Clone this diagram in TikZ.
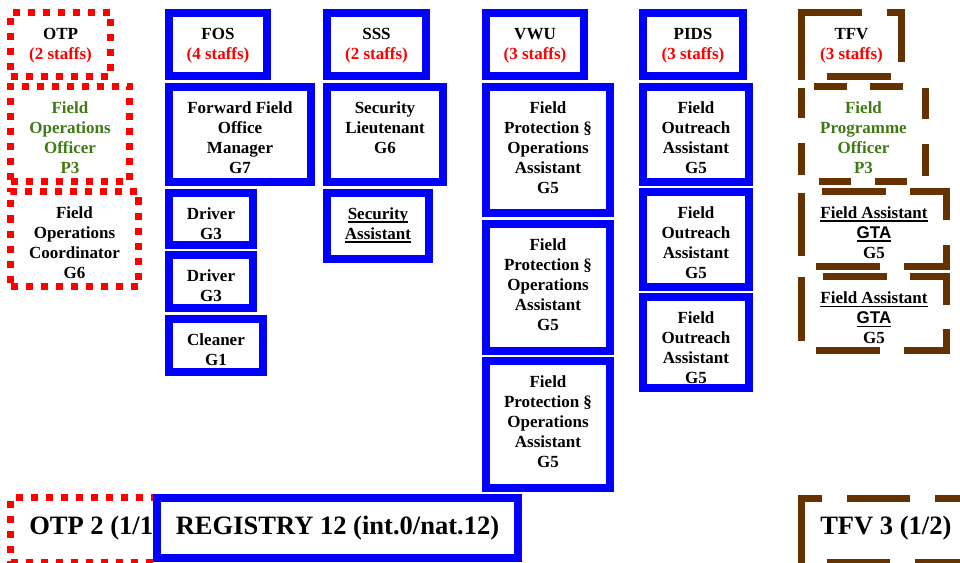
\documentclass[tikz,border=0pt]{standalone}
\usepackage{fontspec}
\setmainfont{Liberation Serif}
\newfontfamily\arialfont{Liberation Sans}
\definecolor{myred}{HTML}{FF0000}
\definecolor{mygreen}{HTML}{3F7A14}
\definecolor{mybrown}{HTML}{663300}
\definecolor{myblue}{HTML}{0000FF}
\newcommand\myul[1]{\setbox0\hbox{#1}\rlap{\rule[-2.4pt]{\wd0}{1.1pt}}\box0}
\newcommand\mybox[7]{\node[#1, minimum width={(#5-#3-#7)*0.75pt}, minimum height={(#6-#4-#7)*0.75pt}] (#2) at ({(#3+#5)/2},{(#4+#6)/2}) {};}
\newcommand\mytext[6][]{\node[txt,#1] (#2) at ({(#3+#5)/2},{#4+16.5}) {\strut #6};}
\tikzset{
  bluebox/.style={draw=myblue, line width=6pt, inner sep=0pt, outer sep=0pt, fill=white},
  redbox/.style={draw=myred, line width=5.25pt, dash pattern=on 5.25pt off 6pt, inner sep=0pt, outer sep=0pt},
  brownline/.style={draw=mybrown, line width=5.25pt, line cap=butt, line join=miter},
  txt/.style={anchor=north, align=center, inner sep=0pt, font=\bfseries\fontsize{12.75}{15}\selectfont},
  bigtxt/.style={inner sep=0pt, font=\bfseries\fontsize{19.9}{24}\selectfont},
}
\begin{document}
\begin{tikzpicture}[x=0.75pt,y=-0.75pt]
\useasboundingbox (0,0) rectangle (960,563);
% OTP column
\mybox{redbox}{otp}{7}{9}{114}{80}{7}
\mytext{otpt}{7}{9}{114}{OTP\\\textcolor{myred}{(2 staffs)}}
\mybox{redbox}{foo}{7}{83}{133}{185}{7}
\mytext[text=mygreen]{foot}{7}{83}{133}{Field\\Operations\\Officer\\P3}
\mybox{redbox}{foc}{7}{188}{142}{290}{7}
\mytext{foct}{7}{188}{142}{Field\\Operations\\Coordinator\\G6}
% FOS column
\mybox{bluebox}{fos}{165}{9}{271}{80}{8}
\mytext{fost}{165}{9}{271}{FOS\\\textcolor{myred}{(4 staffs)}}
\mybox{bluebox}{ffom}{165}{83}{315}{186}{8}
\mytext{ffomt}{165}{83}{315}{Forward Field\\Office\\Manager\\G7}
\mybox{bluebox}{drv1}{165}{189}{257}{249}{8}
\mytext{drv1t}{165}{189}{257}{Driver\\G3}
\mybox{bluebox}{drv2}{165}{251}{257}{312}{8}
\mytext{drv2t}{165}{251}{257}{Driver\\G3}
\mybox{bluebox}{cln}{165}{315}{267}{376}{8}
\mytext{clnt}{165}{315}{267}{Cleaner\\G1}
% SSS column
\mybox{bluebox}{sss}{323}{9}{430}{80}{8}
\mytext{ssst}{323}{9}{430}{SSS\\\textcolor{myred}{(2 staffs)}}
\mybox{bluebox}{secl}{323}{83}{447}{186}{8}
\mytext{seclt}{323}{83}{447}{Security\\Lieutenant\\G6}
\mybox{bluebox}{seca}{323}{189}{433}{263}{8}
\mytext{secat}{323}{189}{433}{\myul{Security}\\\myul{Assistant}}
% VWU column
\mybox{bluebox}{vwu}{482}{9}{588}{80}{8}
\mytext{vwut}{482}{9}{588}{VWU\\\textcolor{myred}{(3 staffs)}}
\mybox{bluebox}{fp1}{482}{83}{614}{217}{8}
\mytext{fp1t}{482}{83}{614}{Field\\Protection §\\Operations\\Assistant\\G5}
\mybox{bluebox}{fp2}{482}{220}{614}{355}{8}
\mytext{fp2t}{482}{220}{614}{Field\\Protection §\\Operations\\Assistant\\G5}
\mybox{bluebox}{fp3}{482}{357}{614}{492}{8}
\mytext{fp3t}{482}{357}{614}{Field\\Protection §\\Operations\\Assistant\\G5}
% PIDS column
\mybox{bluebox}{pids}{639}{9}{747}{80}{8}
\mytext{pidst}{639}{9}{747}{PIDS\\\textcolor{myred}{(3 staffs)}}
\mybox{bluebox}{fo1}{639}{83}{753}{186}{8}
\mytext{fo1t}{639}{83}{753}{Field\\Outreach\\Assistant\\G5}
\mybox{bluebox}{fo2}{639}{188}{753}{291}{8}
\mytext{fo2t}{639}{188}{753}{Field\\Outreach\\Assistant\\G5}
\mybox{bluebox}{fo3}{639}{293}{753}{392}{8}
\mytext{fo3t}{639}{293}{753}{Field\\Outreach\\Assistant\\G5}
% TFV column (dashed brown borders drawn piece by piece)
\draw[brownline] (862,12.5) -- (801.5,12.5) -- (801.5,80);
\draw[brownline] (887,12.5) -- (901.5,12.5) -- (901.5,62);
\draw[brownline] (827,76.5) -- (891,76.5);
\mytext{tfvt}{798}{9}{905}{TFV\\\textcolor{myred}{(3 staffs)}}
\draw[brownline] (814,86.5) -- (847,86.5) (870,86.5) -- (903,86.5);
\draw[brownline] (801.5,88) -- (801.5,118) (801.5,143) -- (801.5,175);
\draw[brownline] (925.5,88) -- (925.5,119) (925.5,144) -- (925.5,176);
\draw[brownline] (819,181.5) -- (851,181.5) (875,181.5) -- (907,181.5);
\mytext[text=mygreen]{fpot}{798}{83}{929}{Field\\Programme\\Officer\\P3}
\draw[brownline] (822,191.5) -- (886,191.5);
\draw[brownline] (910,191.5) -- (946.5,191.5) -- (946.5,220);
\draw[brownline] (801.5,193) -- (801.5,256);
\draw[brownline] (816,266.5) -- (880,266.5);
\draw[brownline] (904,266.5) -- (946.5,266.5) -- (946.5,245);
\mytext{fa1t}{798}{188}{950}{\myul{Field Assistant}\\\myul{\arialfont GTA}\\G5}
\draw[brownline] (823,276.5) -- (887,276.5);
\draw[brownline] (910,276.5) -- (946.5,276.5) -- (946.5,305);
\draw[brownline] (801.5,277) -- (801.5,341);
\draw[brownline] (816,350.5) -- (880,350.5);
\draw[brownline] (904,350.5) -- (946.5,350.5) -- (946.5,329);
\mytext{fa2t}{798}{273}{950}{\myul{Field Assistant}\\\myul{\arialfont GTA}\\G5}
% bottom row
\mybox{redbox}{otp2}{7}{494}{160}{566}{7}
\node[bigtxt, anchor=base west] (otp2t) at (29,534) {OTP 2 (1/1)};
\mybox{bluebox}{reg}{153}{494}{522}{562}{8}
\node[bigtxt, anchor=base] (regt) at (337.5,534) {REGISTRY 12 (int.0/nat.12)};
\draw[brownline] (822,498) -- (801.5,498) -- (801.5,566);
\draw[brownline] (847,498) -- (910,498) (935,498) -- (998,498);
\draw[brownline] (827,562) -- (890,562) (915,562) -- (978,562);
\node[bigtxt, anchor=base west] (tfv3t) at (820,534) {TFV 3 (1/2)};
\end{tikzpicture}
\end{document}
